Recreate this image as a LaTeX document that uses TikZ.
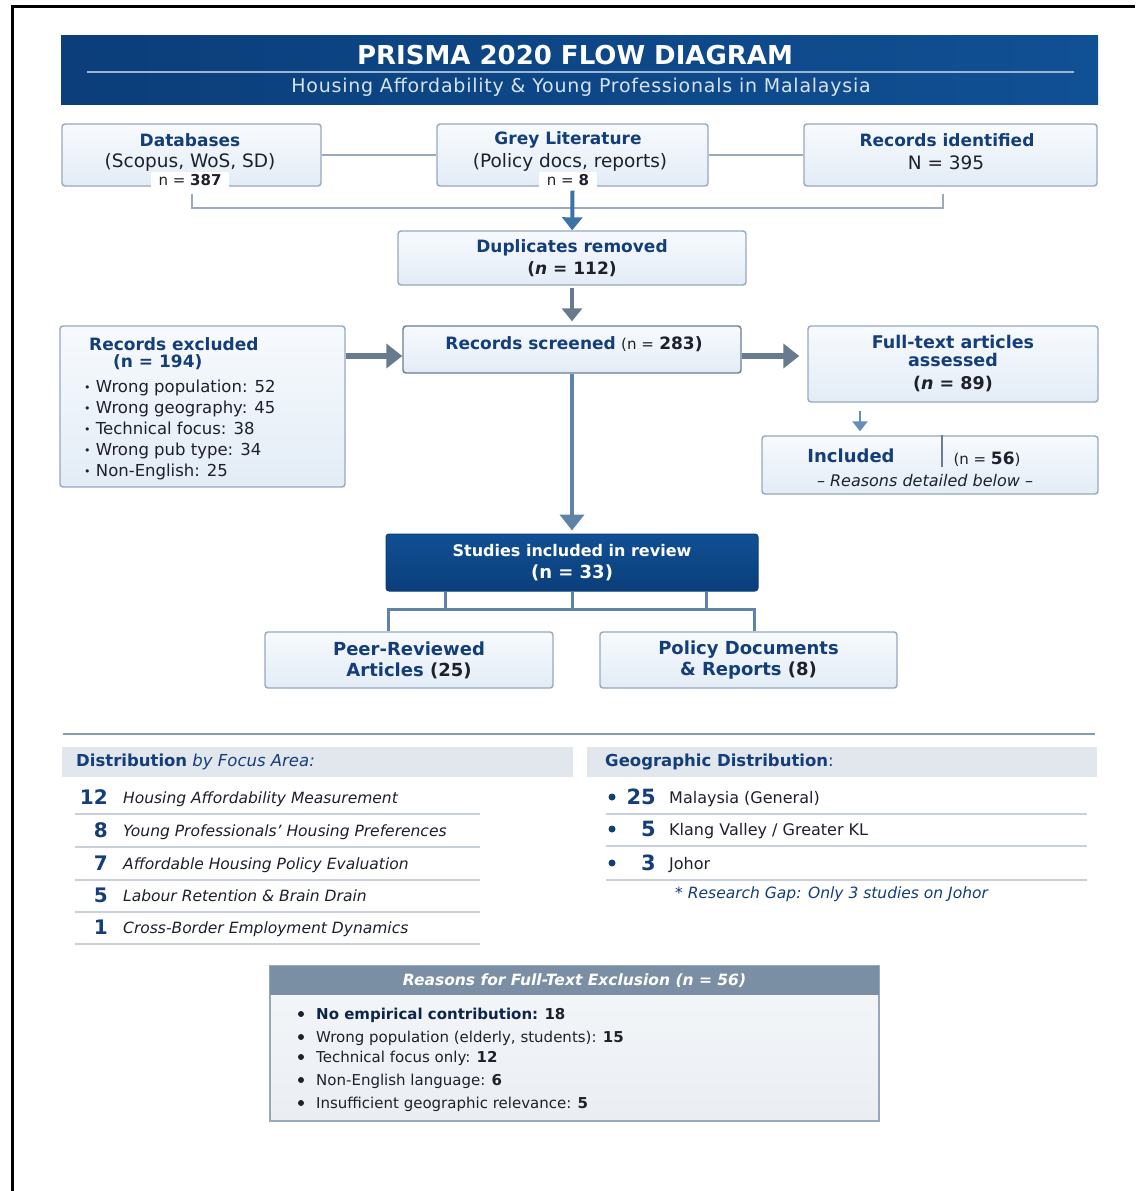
\documentclass[tikz,border=0pt]{standalone}
\usepackage{fontspec}
\setmainfont{DejaVu Sans}
\usepackage{xcolor}
\usepackage{tikz}
\usetikzlibrary{arrows.meta, positioning, calc}
\definecolor{mynavy}{RGB}{16,80,148}
\definecolor{mynavydk}{RGB}{11,62,122}
\definecolor{mytext}{RGB}{20,62,122}
\definecolor{mydark}{RGB}{30,32,44}
\definecolor{myedge}{RGB}{150,168,190}
\definecolor{myedgedk}{RGB}{105,125,150}
\definecolor{myfilltop}{RGB}{247,250,253}
\definecolor{myfillbot}{RGB}{227,236,246}
\definecolor{mygrey}{RGB}{104,122,142}
\definecolor{myblue}{RGB}{62,114,166}
\definecolor{mysteel}{RGB}{95,130,168}
\definecolor{mylink}{RGB}{155,170,186}
\definecolor{myband}{RGB}{226,231,237}
\definecolor{myrule}{RGB}{200,208,218}
\definecolor{mysep}{RGB}{130,155,182}
\definecolor{myhdr}{RGB}{122,142,164}
\definecolor{mypanel}{RGB}{234,238,243}
\definecolor{mysub}{RGB}{214,226,240}
\newcommand{\fsz}[2]{\fontsize{#1}{#2}\selectfont}
\newcommand{\sdot}{\raisebox{1pt}{\fsz{11}{11}•}\ }
\tikzset{
  box/.style={rectangle, draw=myedge, top color=myfilltop, bottom color=myfillbot,
    rounded corners=3pt, line width=1.4pt, inner sep=0pt, align=center},
  navybox/.style={rectangle, draw=mynavydk, top color=mynavy, bottom color=mynavydk,
    rounded corners=3pt, line width=1pt, inner sep=0pt, align=center, text=white},
  head/.style={inner sep=0pt, align=center, text=mytext, font=\fsz{17}{22}\bfseries},
  plain/.style={inner sep=0pt, align=center, text=mydark, font=\fsz{18.5}{22}},
  tag/.style={inner xsep=8pt, inner ysep=2pt, fill=white, text=mydark, font=\fsz{15}{18}},
  link/.style={draw=mylink, line width=2pt},
  branch/.style={draw=mysteel, line width=3pt},
  greyarrow/.style={-{Triangle[width=24pt,length=16pt]}, draw=mygrey, line width=6pt},
  darrow/.style={-{Triangle[width=20pt,length=13pt]}, draw=mygrey, line width=4pt},
  bluearrow/.style={-{Triangle[width=20pt,length=13pt]}, draw=myblue, line width=4pt},
  steelarrow/.style={-{Triangle[width=24pt,length=16pt]}, draw=mysteel, line width=4pt},
  minorarrow/.style={-{Triangle[width=15pt,length=10pt]}, draw=myblue!80, line width=2.5pt},
  band/.style={rectangle, fill=myband, inner sep=0pt, minimum height=30pt},
  bandtext/.style={inner sep=0pt, anchor=west, text=mytext, font=\fsz{16.5}{20}},
  rowrule/.style={draw=myrule, line width=1.3pt},
  tally/.style={inner sep=0pt, anchor=base east, text=mytext, font=\fsz{20}{24}\bfseries},
  focus/.style={inner sep=0pt, anchor=base west, text=mydark, font=\fsz{15.5}{20}\itshape},
  region/.style={inner sep=0pt, anchor=base west, text=mydark, font=\fsz{16}{20}},
  dot/.style={circle, fill=mytext, inner sep=0pt, minimum size=7pt}
}

\begin{document}
\begin{tikzpicture}[x=1pt, y=-1pt]
  \useasboundingbox (0,0) rectangle (1135,1191);
  \fill[white] (0,0) rectangle (1135,1191);
  \draw[line width=3pt, black] (12,1191) -- (12,6) -- (1135,6);

  \node[rectangle, left color=mynavydk, right color=mynavy, minimum width=1037pt,
    minimum height=69pt, inner sep=0pt] (banner) at (579.5,69.5) {};
  \node[inner sep=0pt, text=white, font=\fsz{26}{30}\bfseries] (title) at (575,55) {PRISMA 2020 FLOW DIAGRAM};
  \draw[mysub!70!mynavy, line width=1.2pt] (87,72) -- (1074,72);
  \node[inner sep=0pt, text=mysub, font=\fsz{19}{22}\addfontfeatures{LetterSpace=4}] (subtitle) at (581,87)
    {Housing Affordability \& Young Professionals in Malalaysia};

  \node[box, minimum width=259pt, minimum height=62pt] (db) at (191.5,155) {};
  \node[box, minimum width=271pt, minimum height=62pt] (grey) at (572.5,155) {};
  \node[box, minimum width=293pt, minimum height=62pt] (rid) at (950.5,155) {};
  \node[head] (dbhead) at (190,140) {Databases};
  \node[plain] (dbsrc) at (190,162) {(Scopus, WoS, SD)};
  \node[tag] (dbn) at (190,180) {n = \textbf{387}};
  \node[head] (greyhead) at (568,140) {Grey Literature};
  \node[plain] (greysrc) at (570,162) {(Policy docs, reports)};
  \node[tag] (greyn) at (568,180) {n = \textbf{8}};
  \node[head] (ridhead) at (947,140) {Records identified};
  \node[plain] (ridn) at (946,163) {N = 395};
  \draw[link] (db) -- (grey);
  \draw[link] (grey) -- (rid);
  \draw[link] ([yshift=-7pt]db.south) -- ++(0,14) -| ([xshift=-8pt,yshift=-7pt]rid.south);

  \node[box, minimum width=348pt, minimum height=54pt, text=mydark, font=\fsz{17}{22}\bfseries]
    (dup) at (572,258) {\textcolor{mytext}{Duplicates removed}\\(\textit{n} = 112)};
  \draw[bluearrow] ([yshift=-4pt]grey.south) -- (dup);

  \node[box, draw=myedgedk, minimum width=338pt, minimum height=47pt] (scr) at (572,349.5) {};
  \node[inner sep=0pt, text=mydark, font=\fsz{17}{20}] (scrtext) at (574,344)
    {\textcolor{mytext}{\bfseries Records screened} {\fsz{15}{18}(n =} \textbf{283)}};
  \draw[darrow] ([yshift=-2pt]dup.south) -- ([yshift=4pt]scr.north);

  \node[box, minimum width=285pt, minimum height=161pt] (excl) at (202.5,406.5) {};
  \node[head, anchor=west] (exclhead) at (89,344) {Records excluded};
  \node[head, anchor=west] (excln) at (113,362) {(n = 194)};
  \node[inner sep=0pt, anchor=north west, align=left, text=mydark, font=\fsz{16.5}{21}]
    (excllist) at (84,380) {\sdot Wrong population: 52\\\sdot Wrong geography: 45\\
    \sdot Technical focus: 38\\\sdot Wrong pub type: 34\\\sdot Non-English: 25};
  \draw[greyarrow] (excl.east |- 0,356) -- ([yshift=-6.5pt]scr.west);

  \node[box, minimum width=290pt, minimum height=76pt, text=mytext, font=\fsz{17.5}{18}\bfseries]
    (ft) at (953,364) {Full-text articles\\assessed\\[5pt]\textcolor{mydark}{(\textit{n} = 89)}};
  \draw[greyarrow, shorten >=8pt] ([yshift=-6.5pt]scr.east) -- (ft.west |- 0,356);

  \node[box, minimum width=336pt, minimum height=58pt] (inc) at (930,465) {};
  \draw[draw=myedgedk, line width=1.5pt] (inc.north -| 942,0) -- ++(0,32);
  \node[head, font=\fsz{18}{22}\bfseries] (inchead) at (851,456) {Included};
  \node[inner sep=0pt, text=mydark, font=\fsz{15}{18}] (incn) at (987,459) {(n = \textbf{\fsz{17}{18}56})};
  \node[inner sep=0pt, text=mydark, font=\fsz{16}{18}\itshape] (incnote) at (925,481) {– Reasons detailed below –};
  \draw[minorarrow, shorten >=4pt] ([xshift=-93pt,yshift=-8pt]ft.south) -- (inc.north -| 860,0);

  \node[navybox, minimum width=372pt, minimum height=57pt, font=\fsz{16}{22}\bfseries]
    (st) at (572,562.5) {Studies included in review\\{\fsz{18}{22}(n = 33)}};
  \draw[steelarrow, shorten >=3pt] (scr) -- (st);

  \node[box, minimum width=288pt, minimum height=56pt, text=mytext, font=\fsz{18}{21}\bfseries]
    (peer) at (409,660) {Peer-Reviewed\\Articles \textcolor{mydark}{(25)}};
  \node[box, minimum width=297pt, minimum height=56pt, text=mytext, font=\fsz{18}{21}\bfseries]
    (pol) at (748.5,660) {Policy Documents\\\& Reports \textcolor{mydark}{(8)}};
  \draw[branch] ([xshift=-127pt]st.south) -- ++(0,18);
  \draw[branch] (st.south) -- ++(0,18);
  \draw[branch] ([xshift=134pt]st.south) -- ++(0,18);
  \draw[branch] ([xshift=-21pt]peer.north) -- ++(0,-22) -| ([xshift=5.5pt]pol.north);

  \draw[draw=mysep, line width=1.5pt] (63,734) -- (1095,734);

  \node[band, minimum width=511pt] (lband) at (317.5,762) {};
  \node[bandtext] (ltitle) at (76,762) {\textbf{Distribution} \textit{by Focus Area:}};
  \node[band, minimum width=510pt] (rband) at (842,762) {};
  \node[bandtext] (rtitle) at (605,762) {\textbf{Geographic Distribution}:};

  \foreach \k/\txt/\yy in {12/Housing Affordability Measurement/797,
      8/Young Professionals’ Housing Preferences/830,
      7/Affordable Housing Policy Evaluation/863,
      5/Labour Retention \& Brain Drain/895,
      1/Cross-Border Employment Dynamics/927} {
    \node[tally] (fn\k) at (108,\yy+7) {\k};
    \node[focus] (fl\k) at (123,\yy+6) {\txt};
    \draw[rowrule] (75,\yy+17) -- (480,\yy+17);
  }

  \foreach \k/\txt/\yy in {25/Malaysia (General)/797,
      5/{Klang Valley / Greater KL}/829,
      3/Johor/863} {
    \node[dot] (gd\k) at (612,\yy) {};
    \node[tally, font=\fsz{21}{24}\bfseries] (gn\k) at (656,\yy+7.5) {\k};
    \node[region] (gl\k) at (669,\yy+6) {\txt};
    \draw[rowrule] (606,\yy+17) -- (1087,\yy+17);
  }
  \node[inner sep=0pt, anchor=west, text=mytext, font=\fsz{15.5}{18}\itshape]
    (gap) at (675,894) {* Research Gap: Only 3 studies on Johor};

  \node[rectangle, draw=myedge, top color=mypanel!50!white, bottom color=mypanel, line width=1.2pt,
    minimum width=609pt, minimum height=155pt, inner sep=0pt] (rsn) at (574.5,1043.5) {};
  \node[rectangle, fill=myhdr, minimum width=609pt, minimum height=29pt, inner sep=0pt, text=white,
    font=\fsz{15.5}{18}\bfseries\itshape] (rsnhead) at (574.5,980.5) {Reasons for Full-Text Exclusion (n = 56)};
  \foreach \t/\v/\yy [count=\i] in {{\textbf{\textcolor{mytext!60!black}{No empirical contribution:}}}/18/1014,
      {Wrong population (elderly, students):}/15/1037,
      {Technical focus only:}/12/1057,
      {Non-English language:}/6/1080,
      {Insufficient geographic relevance:}/5/1103} {
    \node[dot, minimum size=6pt, fill=mydark] (rd\i) at (301,\yy) {};
    \node[region, font=\fsz{15}{18}] (rt\i) at (316,\yy+5.5) {\t{} \textbf{\v}};
  }
\end{tikzpicture}
\end{document}
